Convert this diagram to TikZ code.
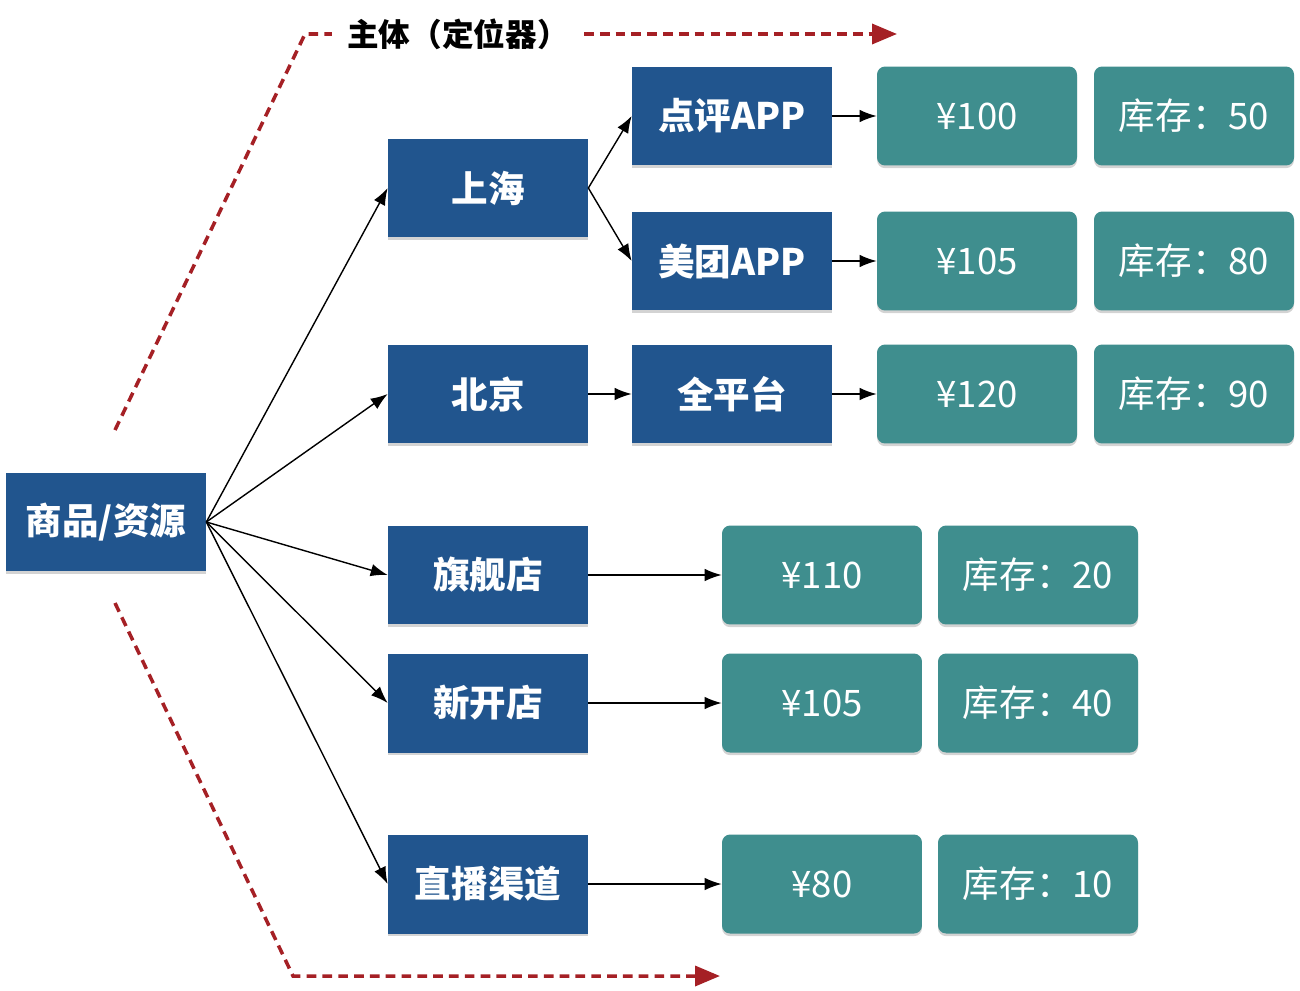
\documentclass[tikz,border=0pt]{standalone}
\usepackage{fontspec}
\setmainfont{Noto Sans CJK SC}
\usetikzlibrary{arrows.meta, shadows}
\definecolor{chanblue}{HTML}{21558E}
\definecolor{valteal}{HTML}{3F8E8E}
\definecolor{guidered}{HTML}{A52025}

\begin{document}
\begin{tikzpicture}[x=0.02cm, y=-0.02cm,
    chan/.style={fill=chanblue, text=white, font=\fontsize{20.8}{20.8}\selectfont\bfseries,
      minimum width=4cm, minimum height=1.98cm, inner sep=0pt,
      drop shadow={shadow xshift=0pt, shadow yshift=-1.5pt, opacity=0.35}},
    val/.style={chan, fill=valteal, rounded corners=0.16cm, font=\fontsize{20.8}{20.8}\selectfont},
    link/.style={-{Latex[length=3.4mm, width=2.5mm]}, line width=0.8pt},
    guide/.style={guidered, line width=2pt, dash pattern=on 5.5pt off 3.5pt}]
                \useasboundingbox (0,0) rectangle (1300,990);
                % channels
                \node[chan] (goods) at (106,522) {商品/资源};
                \node[chan] (sh) at (488,188) {上海};
                \node[chan] (bj) at (488,394) {北京};
                \node[chan] (flag) at (488,575) {旗舰店};
                \node[chan] (new) at (488,703) {新开店};
                \node[chan] (live) at (488,884) {直播渠道};
                \node[chan] (dp) at (732,116) {点评APP};
                \node[chan] (mt) at (732,261) {美团APP};
                \node[chan] (all) at (732,394) {全平台};
                % prices and stock
                \node[val] (p1) at (977,116) {¥100};
                \node[val] (s1) at (1194,116) {库存：50};
                \node[val] (p2) at (977,261) {¥105};
                \node[val] (s2) at (1194,261) {库存：80};
                \node[val] (p3) at (977,394) {¥120};
                \node[val] (s3) at (1194,394) {库存：90};
                \node[val] (p4) at (822,575) {¥110};
                \node[val] (s4) at (1038,575) {库存：20};
                \node[val] (p5) at (822,703) {¥105};
                \node[val] (s5) at (1038,703) {库存：40};
                \node[val] (p6) at (822,884) {¥80};
                \node[val] (s6) at (1038,884) {库存：10};
                % links
                \draw[link] (goods.east) -- (sh.west);
                \draw[link] (goods.east) -- (bj.west);
                \draw[link] (goods.east) -- (flag.west);
                \draw[link] (goods.east) -- (new.west);
                \draw[link] (goods.east) -- (live.west);
                \draw[link] (sh.east) -- (dp.west);
                \draw[link] (sh.east) -- (mt.west);
                \draw[link] (bj) -- (all);
                \draw[link] (dp) -- (p1);
                \draw[link] (mt) -- (p2);
                \draw[link] (all) -- (p3);
                \draw[link] (flag) -- (p4);
                \draw[link] (new) -- (p5);
                \draw[link] (live) -- (p6);
                % locator guide
                \node[font=\fontsize{18}{18}\selectfont\bfseries, inner xsep=0.3cm] (title) at (458,34) {主体（定位器）};
                \coordinate (g1) at (115,430);
                \coordinate (g2) at (305,34);
                \coordinate (g3) at (897,34);
                \coordinate (g4) at (115,603);
                \coordinate (g5) at (293,976);
                \coordinate (g6) at (720,976);
                \draw[guide] (g1) -- (g2) -- (title.west);
                \draw[guide, -{Triangle[length=0.5cm, width=0.4cm]}] (title.east) -- (g3);
                \draw[guide, -{Triangle[length=0.5cm, width=0.4cm]}] (g4) -- (g5) -- (g6);
            \end{tikzpicture}
\end{document}
